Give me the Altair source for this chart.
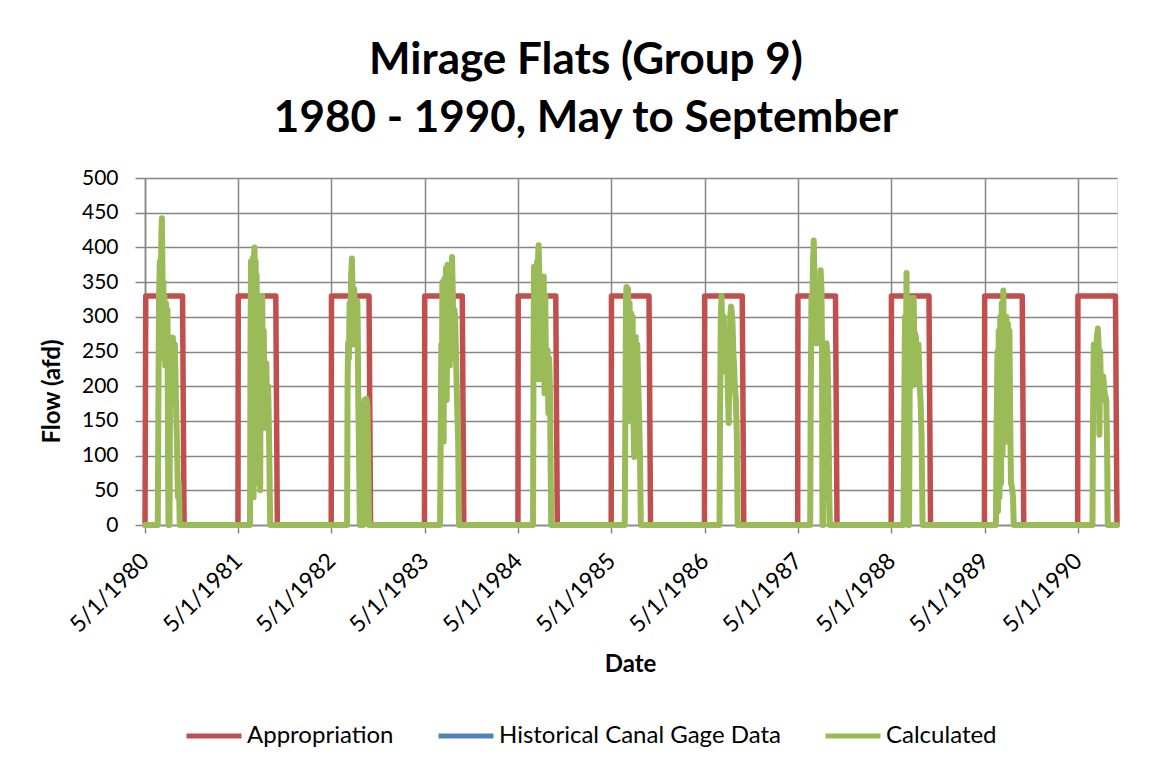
import altair as alt
import pandas as pd

# ---------------- data ----------------
YEARS = list(range(1980, 1991))
SERIES = ["Appropriation", "Historical Canal Gage Data", "Calculated"]
SERIES_COLORS = ["#C0504D", "#4F81BD", "#9BBB59"]
APPROPRIATION_AFD = 330          # constant appropriation during May-Sept
AXIS_YEARS = list(range(1980, 1991))

# Calculated flow: (days after May 1, flow afd) for each season
calc_1980 = [(50, 0), (52, 150), (55, 330), (58, 380), (61, 300), (64, 420), (66, 442), (68, 380),
             (70, 250), (72, 350), (74, 240), (76, 330), (79, 230), (82, 320), (85, 240), (88, 310),
             (90, 100), (92, 0), (96, 0), (98, 200), (101, 270), (105, 250), (109, 270), (113, 230),
             (117, 260), (121, 180), (125, 120), (129, 40), (133, 60), (136, 0)]
calc_1981 = [(46, 0), (48, 250), (50, 380), (52, 50), (54, 370), (56, 100), (58, 385), (60, 40),
             (62, 390), (64, 400), (66, 150), (68, 380), (70, 60), (72, 360), (74, 200), (76, 330),
             (78, 80), (80, 320), (82, 150), (84, 300), (86, 50), (88, 330), (90, 200), (94, 330),
             (97, 150), (100, 280), (103, 140), (106, 230), (110, 233), (113, 140), (117, 200),
             (120, 140), (123, 60), (125, 0)]
calc_1982 = [(61, 0), (63, 200), (65, 262), (68, 240), (71, 320), (74, 290), (77, 360), (80, 384),
             (83, 330), (86, 260), (89, 340), (92, 300), (95, 320), (98, 270), (101, 322), (103, 280),
             (105, 176), (108, 100), (111, 0), (124, 0), (126, 150), (129, 180), (133, 175),
             (137, 182), (141, 170), (144, 90), (147, 0)]
calc_1983 = [(60, 0), (63, 150), (65, 260), (67, 120), (69, 350), (71, 330), (74, 120), (77, 355),
             (80, 250), (83, 370), (86, 180), (89, 375), (92, 260), (95, 340), (98, 230), (101, 360),
             (104, 300), (107, 386), (110, 330), (113, 240), (116, 310), (119, 300), (122, 250),
             (125, 200), (128, 156), (131, 120), (134, 0)]
calc_1984 = [(58, 0), (60, 250), (62, 372), (64, 300), (66, 350), (68, 210), (70, 340), (72, 220),
             (74, 380), (76, 300), (78, 390), (80, 403), (82, 370), (85, 210), (88, 350), (91, 220),
             (94, 340), (97, 260), (100, 358), (103, 190), (106, 330), (109, 200), (112, 250),
             (115, 252), (118, 161), (121, 240), (124, 200), (127, 80), (129, 0)]
calc_1985 = [(52, 0), (55, 200), (57, 330), (59, 343), (62, 240), (65, 340), (68, 150), (71, 320),
             (74, 210), (77, 305), (80, 180), (83, 300), (86, 150), (89, 98), (92, 230), (95, 271),
             (98, 120), (101, 260), (104, 214), (108, 160), (112, 90), (115, 0)]
calc_1986 = [(58, 0), (60, 150), (63, 300), (66, 330), (69, 260), (72, 280), (75, 300), (78, 240),
             (81, 280), (84, 220), (87, 260), (90, 200), (94, 147), (97, 230), (100, 300), (103, 315),
             (106, 307), (109, 290), (112, 250), (115, 230), (118, 200), (122, 180), (126, 127),
             (129, 0)]
calc_1987 = [(48, 0), (50, 180), (53, 330), (56, 300), (59, 380), (62, 410), (65, 350), (68, 300),
             (71, 262), (74, 340), (77, 262), (80, 300), (83, 340), (86, 290), (89, 367), (92, 340),
             (94, 271), (96, 0), (99, 0), (101, 150), (104, 262), (108, 255), (112, 262), (116, 240),
             (119, 180), (122, 60), (125, 0)]
calc_1988 = [(47, 0), (50, 150), (53, 300), (56, 200), (59, 363), (62, 280), (64, 100), (66, 0),
             (69, 0), (72, 250), (75, 320), (78, 200), (81, 327), (84, 300), (87, 327), (90, 250),
             (93, 276), (96, 270), (99, 204), (102, 240), (106, 260), (110, 204), (114, 180),
             (118, 127), (122, 0)]
calc_1989 = [(44, 0), (47, 150), (50, 250), (52, 20), (55, 280), (58, 40), (61, 300), (64, 60),
             (67, 320), (70, 100), (73, 338), (76, 150), (79, 300), (82, 120), (85, 300), (88, 200),
             (91, 290), (94, 220), (97, 280), (100, 150), (103, 60), (107, 55), (111, 40), (114, 0)]
calc_1990 = [(57, 0), (59, 150), (62, 260), (65, 180), (68, 250), (71, 230), (74, 270), (78, 283),
             (81, 260), (84, 130), (87, 250), (90, 200), (93, 214), (96, 180), (99, 214), (102, 200),
             (105, 190), (108, 185), (111, 180), (114, 120), (117, 0)]

CALCULATED = {1980: calc_1980, 1981: calc_1981, 1982: calc_1982, 1983: calc_1983,
              1984: calc_1984, 1985: calc_1985, 1986: calc_1986, 1987: calc_1987,
              1988: calc_1988, 1989: calc_1989, 1990: calc_1990}

# ---------------- build tables ----------------
appr_rows = []
for yr in YEARS:
    start = pd.Timestamp(year=yr, month=5, day=1)
    if yr == YEARS[0]:
        appr_rows.append((start, 0))
        appr_rows.append((start + pd.Timedelta(days=3), APPROPRIATION_AFD))
    else:
        appr_rows.append((start - pd.Timedelta(days=1), 0))
        appr_rows.append((start, APPROPRIATION_AFD))
    appr_rows.append((pd.Timestamp(year=yr, month=9, day=25), APPROPRIATION_AFD))
    appr_rows.append((pd.Timestamp(year=yr, month=10, day=1), 0))
appr_df = pd.DataFrame(appr_rows, columns=["date", "flow"])
appr_df["series"] = "Appropriation"

calc_rows = [(pd.Timestamp(year=YEARS[0], month=5, day=1), 0)]
for yr in YEARS:
    start = pd.Timestamp(year=yr, month=5, day=1)
    for d, v in CALCULATED[yr]:
        calc_rows.append((start + pd.Timedelta(days=d), v))
calc_rows.append((pd.Timestamp(year=YEARS[-1], month=10, day=1), 0))
calc_df = pd.DataFrame(calc_rows, columns=["date", "flow"])
calc_df["series"] = "Calculated"

# ---------------- chart ----------------
FONT = "Lato"
GRID = "#868686"

x_enc = alt.X(
    "date:T",
    scale=alt.Scale(domain=[alt.DateTime(year=1980, month=5, date=1),
                            alt.DateTime(year=1990, month=10, date=1)]),
    axis=alt.Axis(
        values=[alt.DateTime(year=y, month=5, date=1) for y in AXIS_YEARS],
        format="%-m/%-d/%Y", labelAngle=-45, labelAlign="right", labelBaseline="middle",
        labelFont=FONT, labelFontSize=23, labelColor="black", labelPadding=24,
        grid=True, gridColor=GRID, gridWidth=1.5,
        domainColor=GRID, domainWidth=1.5, tickColor=GRID, tickWidth=1.5, tickSize=8,
        title="Date", titleFont=FONT, titleFontSize=24, titleFontWeight="bold", titleColor="black",
        titleX=485, titleY=146, titleBaseline="alphabetic", titleAlign="center",
    ),
)
y_enc = alt.Y(
    "flow:Q",
    scale=alt.Scale(domain=[0, 500], nice=False),
    axis=alt.Axis(
        values=list(range(0, 501, 50)),
        labelFont=FONT, labelFontSize=21, labelColor="black", labelPadding=17,
        grid=True, gridColor=GRID, gridWidth=1.5,
        domainColor=GRID, domainWidth=1.5, tickColor=GRID, tickWidth=1.5, tickSize=10,
        title="Flow (afd)", titleFont=FONT, titleFontSize=24, titleFontWeight="bold", titleColor="black",
        titleX=-93, titleY=213, titleBaseline="middle", titleAlign="center", titleAngle=270,
    ),
)
color_enc = alt.Color(
    "series:N",
    scale=alt.Scale(domain=SERIES, range=SERIES_COLORS),
    legend=alt.Legend(
        title=None, orient="none", legendX=39, legendY=528, direction="horizontal",
        symbolType="stroke", symbolSize=3025, symbolStrokeWidth=5,
        labelFont=FONT, labelFontSize=24, labelColor="black", labelOffset=3, labelLimit=600,
        columnPadding=34, padding=0,
    ),
)

appr = alt.Chart(appr_df).mark_line(strokeWidth=5.5, strokeCap="round", strokeJoin="round").encode(
    x=x_enc, y=y_enc, color=color_enc)
calc = alt.Chart(calc_df).mark_line(strokeWidth=6, strokeCap="round", strokeJoin="round").encode(
    x=x_enc, y=y_enc, color=color_enc)

chart = alt.layer(appr, calc).properties(
    width=972,
    height=347,
    padding={"left": 137, "top": 170, "right": 39, "bottom": 237},
    autosize=alt.AutoSizeParams(type="none"),
    title=alt.TitleParams(
        text=["Mirage Flats (Group 9)", "1980 - 1990, May to September"],
        font=FONT, fontSize=44, fontWeight="bold", color="black",
        anchor="middle", frame="group", dx=-45, offset=26, lineHeight=58,
    ),
).configure_view(strokeWidth=0).configure(background="white")

chart.save("out.html", embed_options={"renderer": "svg", "actions": False})
